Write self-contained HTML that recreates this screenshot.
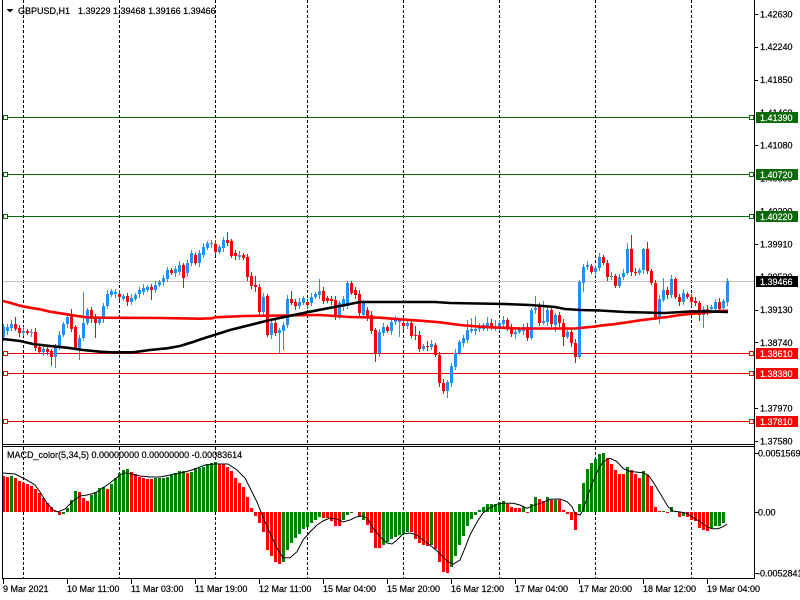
<!DOCTYPE html>
<html><head><meta charset="utf-8"><style>
html,body{margin:0;padding:0;background:#fff;overflow:hidden;width:800px;height:600px}
svg{display:block}
text{font-family:"Liberation Sans",sans-serif;font-size:9px;fill:#000;stroke:#000;stroke-width:0.2px}
text.w{fill:#fff;stroke:#fff;stroke-width:0.15px}
</style></head><body>
<svg id="s" width="800" height="600" viewBox="0 0 800 600" xmlns="http://www.w3.org/2000/svg">
<rect x="0" y="0" width="800" height="600" fill="#fff"/>
<g stroke="#000" stroke-width="1" stroke-dasharray="3,2" shape-rendering="crispEdges">
<line x1="23.5" y1="0" x2="23.5" y2="444"/><line x1="119.5" y1="0" x2="119.5" y2="444"/>
<line x1="215.5" y1="0" x2="215.5" y2="444"/><line x1="307.5" y1="0" x2="307.5" y2="444"/>
<line x1="403.5" y1="0" x2="403.5" y2="444"/><line x1="499.5" y1="0" x2="499.5" y2="444"/>
<line x1="595.5" y1="0" x2="595.5" y2="444"/><line x1="691.5" y1="0" x2="691.5" y2="444"/>
<line x1="23.5" y1="447" x2="23.5" y2="578"/><line x1="119.5" y1="447" x2="119.5" y2="578"/>
<line x1="215.5" y1="447" x2="215.5" y2="578"/><line x1="307.5" y1="447" x2="307.5" y2="578"/>
<line x1="403.5" y1="447" x2="403.5" y2="578"/><line x1="499.5" y1="447" x2="499.5" y2="578"/>
<line x1="595.5" y1="447" x2="595.5" y2="578"/><line x1="691.5" y1="447" x2="691.5" y2="578"/>
</g>
<g stroke-width="1" shape-rendering="crispEdges">
<line x1="2" y1="117.5" x2="754" y2="117.5" stroke="#0a6a0a"/>
<line x1="2" y1="174.5" x2="754" y2="174.5" stroke="#0a6a0a"/>
<line x1="2" y1="216.5" x2="754" y2="216.5" stroke="#0a6a0a"/>
<line x1="2" y1="353.5" x2="754" y2="353.5" stroke="#ee0000"/>
<line x1="2" y1="373.5" x2="754" y2="373.5" stroke="#ee0000"/>
<line x1="2" y1="421.5" x2="754" y2="421.5" stroke="#ee0000"/>
<line x1="2" y1="281.5" x2="754" y2="281.5" stroke="#c0c0c0"/>
</g>
<g id="cd" shape-rendering="crispEdges"></g>
<polyline fill="none" stroke="#ff0000" stroke-width="2.6" points="3,301 10,302.7 20,305.7 30,307.7 40,309.3 50,311.7 67,314.3 77,316 87,317.3 100,317.7 160,318 200,318.7 212,318.3 215,317.3 245,316 320,315 335,316 350,317 380,317.7 400,319.3 420,320.7 440,322.3 460,325 480,326.7 500,327.7 520,328.5 575,328.5 583,327.7 593,326.7 603,325.3 613,324.3 627,322.3 640,320.3 653,318.7 667,317 680,315 693,313.7 707,312.3 720,311 728,310.7"/>
<polyline fill="none" stroke="#000" stroke-width="2.6" points="3,339 20,341 33,344 50,346 67,347.7 83,350 100,351.7 110,352.3 133,352.3 150,350 167,348.3 180,346 193,342 200,339.5 230,330 270,320 310,311.7 350,304 360,302 435,302 450,303 505,304 530,305 555,307 565,309 580,310 600,310.5 625,312 665,313 690,311.5 705,311.3 728,312"/>
<g id="mb" shape-rendering="crispEdges"></g>
<polyline fill="none" stroke="#000" stroke-width="1" points="3,473 15,474 25,479 35,485 40,492 47,503 53,510 58,512 65,509 72,502 80,496 87,495 95,493 100,490 110,483 120,475 125,473 132,474 140,476 150,477 160,477 175,474 185,472 195,469 205,465 215,464 228,464 237,470 245,478 250,488 257,502 263,517 270,533 277,548 283,557.7 290,557.7 297,551.7 303,540 310,532 317,525 323,521 330,518 337,519 343,522 350,520 357,516.7 363,516 368,519 373,528 380,536.7 387,543 392,544 397,540 403,534 410,533 417,535 423,540 430,545 437,551 443,556.7 447,561 453,564.3 460,560 465,548 470,535 477,522 483,513 490,507.7 497,504.3 503,503.3 513,503.3 520,505 527,508.3 533,505.7 543,502.3 550,499.3 560,499 567,501.7 572,506.7 575,513.3 580,515 583,510 588,495 593,481.7 598,470 603,461.7 610,458.3 617,461.7 623,468.3 630,471.5 643,472.7 648,475 653,481.7 658,490 663,498.3 668,506.7 673,511 680,512 687,513.3 693,517.3 700,521.7 707,526.7 712,528.7 718,528.7 723,526.7 727,524"/>
<g stroke="#000" stroke-width="1" shape-rendering="crispEdges">
<line x1="2.5" y1="0" x2="2.5" y2="579"/>
<line x1="754.5" y1="0" x2="754.5" y2="579"/>
<line x1="2" y1="444.5" x2="755" y2="444.5"/>
<line x1="2" y1="446.5" x2="755" y2="446.5"/>
<line x1="2" y1="578.5" x2="755" y2="578.5"/>
<line x1="755" y1="14.5" x2="758" y2="14.5"/><line x1="755" y1="47.5" x2="758" y2="47.5"/>
<line x1="755" y1="80.5" x2="758" y2="80.5"/><line x1="755" y1="145.5" x2="758" y2="145.5"/>
<line x1="755" y1="244.5" x2="758" y2="244.5"/><line x1="755" y1="310.5" x2="758" y2="310.5"/>
<line x1="755" y1="342.5" x2="758" y2="342.5"/><line x1="755" y1="408.5" x2="758" y2="408.5"/>
<line x1="755" y1="441.5" x2="758" y2="441.5"/>
<line x1="755" y1="453.5" x2="758" y2="453.5"/><line x1="755" y1="512.5" x2="758" y2="512.5"/>
<line x1="755" y1="573.5" x2="758" y2="573.5"/>
<line x1="3.5" y1="579" x2="3.5" y2="584"/><line x1="67.5" y1="579" x2="67.5" y2="584"/>
<line x1="131.5" y1="579" x2="131.5" y2="584"/><line x1="195.5" y1="579" x2="195.5" y2="584"/>
<line x1="259.5" y1="579" x2="259.5" y2="584"/><line x1="323.5" y1="579" x2="323.5" y2="584"/>
<line x1="387.5" y1="579" x2="387.5" y2="584"/><line x1="451.5" y1="579" x2="451.5" y2="584"/>
<line x1="515.5" y1="579" x2="515.5" y2="584"/><line x1="579.5" y1="579" x2="579.5" y2="584"/>
<line x1="643.5" y1="579" x2="643.5" y2="584"/><line x1="707.5" y1="579" x2="707.5" y2="584"/>
</g>
<g>
<text x="760" y="17.3">1.42630</text>
<text x="760" y="50">1.42240</text>
<text x="760" y="83">1.41850</text>
<text x="760" y="116">1.41460</text>
<text x="760" y="148.7">1.41080</text>
<text x="760" y="181.5">1.40690</text>
<text x="760" y="214.4">1.40300</text>
<text x="760" y="247.3">1.39910</text>
<text x="760" y="280">1.39520</text>
<text x="760" y="313">1.39130</text>
<text x="760" y="345.8">1.38740</text>
<text x="760" y="378.6">1.38350</text>
<text x="760" y="411.5">1.37970</text>
<text x="760" y="444.3">1.37580</text>
</g>
<g shape-rendering="crispEdges">
<rect x="756" y="112" width="42" height="11" fill="#0a6a0a"/>
<rect x="756" y="169" width="42" height="11" fill="#0a6a0a"/>
<rect x="756" y="211" width="42" height="11" fill="#0a6a0a"/>
<rect x="756" y="276" width="42" height="11" fill="#000"/>
<rect x="756" y="348" width="42" height="11" fill="#ff0000"/>
<rect x="756" y="368" width="42" height="11" fill="#ff0000"/>
<rect x="756" y="416" width="42" height="11" fill="#ff0000"/>
</g>
<g>
<text class="w" x="760" y="120.8">1.41390</text>
<text class="w" x="760" y="177.8">1.40720</text>
<text class="w" x="760" y="219.8">1.40220</text>
<text class="w" x="760" y="284.8">1.39466</text>
<text class="w" x="760" y="356.8">1.38610</text>
<text class="w" x="760" y="376.8">1.38380</text>
<text class="w" x="760" y="424.8">1.37810</text>
</g>
<g fill="#fff" stroke-width="1" shape-rendering="crispEdges">
<rect x="3.5" y="115.5" width="4" height="4" stroke="#0a6a0a"/>
<rect x="3.5" y="172.5" width="4" height="4" stroke="#0a6a0a"/>
<rect x="3.5" y="214.5" width="4" height="4" stroke="#0a6a0a"/>
<rect x="749.5" y="115.5" width="4" height="4" stroke="#0a6a0a"/>
<rect x="749.5" y="172.5" width="4" height="4" stroke="#0a6a0a"/>
<rect x="749.5" y="214.5" width="4" height="4" stroke="#0a6a0a"/>
<rect x="3.5" y="351.5" width="4" height="4" stroke="#ee0000"/>
<rect x="3.5" y="371.5" width="4" height="4" stroke="#ee0000"/>
<rect x="3.5" y="419.5" width="4" height="4" stroke="#ee0000"/>
<rect x="749.5" y="351.5" width="4" height="4" stroke="#ee0000"/>
<rect x="749.5" y="371.5" width="4" height="4" stroke="#ee0000"/>
<rect x="749.5" y="419.5" width="4" height="4" stroke="#ee0000"/>
</g>
<text x="758" y="456.5">0.0051569</text>
<text x="758" y="515.5">0.00</text>
<text x="757" y="576.5">-0.0052841</text>
<text x="7" y="458">MACD_color(5,34,5) 0.00000000 0.00000000 -0.00083614</text>
<polygon points="6.5,9 13.5,9 10,12.5" fill="#000"/>
<text x="18" y="14">GBPUSD,H1</text>
<text x="78" y="14">1.39229 1.39468 1.39166 1.39466</text>
<g>
<text x="3" y="592">9 Mar 2021</text>
<text x="67" y="592">10 Mar 11:00</text>
<text x="131" y="592">11 Mar 03:00</text>
<text x="195" y="592">11 Mar 19:00</text>
<text x="259" y="592">12 Mar 11:00</text>
<text x="323" y="592">15 Mar 04:00</text>
<text x="387" y="592">15 Mar 20:00</text>
<text x="451" y="592">16 Mar 12:00</text>
<text x="515" y="592">17 Mar 04:00</text>
<text x="579" y="592">17 Mar 20:00</text>
<text x="643" y="592">18 Mar 12:00</text>
<text x="707" y="592">19 Mar 04:00</text>
</g>
</svg>
<script>
(function(){
var NS='http://www.w3.org/2000/svg';
function R(p,x,y,w,h,f){var r=document.createElementNS(NS,'rect');r.setAttribute('x',x);r.setAttribute('y',y);r.setAttribute('width',w);r.setAttribute('height',h);r.setAttribute('fill',f);p.appendChild(r);}
var C=[[1,327,337,324,341],[1,327,331],[1,324,328],[0,324,329,317,0],[0,328,333],[1,331,333],[0,331,333],[1,332,333],[0,332,348],[0,347,352],
[1,349,352],[0,349,352],[0,351,357,0,366],[1,347,357,0,368],[1,335,347],[1,324,335],[1,317,324],[0,314,329,309,0],[0,327,348],[1,338,348,0,360],
[1,323,338,292,0],[1,310,323],[0,310,319],[0,318,323,0,338],[1,319,323],[1,306,319],[1,294,306],[1,291,295],[1,292,294],[0,294,297],
[1,296,299],[0,296,302],[1,298,302],[1,295,299],[1,290,294],[1,288,292],[1,287,290],[0,287,290,0,300],[1,285,290],[1,282,285],
[1,278,282],[1,270,279,267,0],[0,270,273],[1,269,273],[1,265,272],[0,265,278,0,288],[1,263,273],[1,253,263,250,0],[0,255,263],[1,253,263],
[1,247,255],[1,243,248],[1,243,244],[0,244,252],[1,247,252],[1,240,248],[0,240,243,232,0],[0,241,256],[0,253,256],[1,255,257],
[0,255,258],[0,257,277],[0,276,286],[0,285,287,276,292],[0,287,312],[1,297,312],[0,296,335],[1,323,335],[0,323,333],[1,330,333,0,353],
[1,325,331,0,350],[1,299,325],[0,299,303,291,0],[0,302,306],[1,302,306],[1,298,303],[0,302,305],[1,297,303],[1,294,297],[1,291,295,279,0],
[0,291,301],[0,298,301],[0,299,301],[0,300,317],[1,303,317],[1,299,307],[1,283,306,281,0],[0,283,293],[0,290,295],[0,294,313],
[1,302,315],[0,310,317],[0,315,331],[0,330,353,0,362],[1,332,353],[1,327,333],[0,327,331],[1,322,331],[1,320,322],[1,320,322,0,337],
[0,323,326],[1,323,326],[0,323,336],[0,335,336,326,0],[0,335,349],[1,346,349],[0,346,347,341,0],[1,344,347],[0,345,355],[0,355,383],
[0,383,391],[1,382,391,0,398],[1,366,383],[1,353,367],[1,342,353],[1,338,343],[1,330,340,320,0],[1,329,331,318,0],[1,329,331,316,0],[1,327,329],
[1,325,329],[1,323,327,317,0],[0,323,327],[1,327,329,320,0],[1,323,327],[1,320,324],[0,320,329],[0,327,334,0,337],[1,332,334,0,339],[1,329,332],
[1,327,331],[0,327,338],[1,310,338],[1,308,310,296,0],[0,307,323],[1,321,323,301,0],[1,310,322],[0,310,324],[1,315,325,0,332],[0,315,323],
[0,323,337,0,346],[1,332,337],[0,332,343],[0,343,357,0,363],[1,282,357],[1,267,283,0,292],[1,265,267],[0,266,272],[1,268,272],[1,257,268],
[0,257,263],[0,263,277],[1,276,277],[0,276,286],[1,277,286,0,288],[1,273,277],[1,249,273,243,0],[0,249,272,235,0],[0,272,273],[1,270,273],
[1,249,270,248,0],[0,249,271,242,0],[0,271,283],[0,283,318,0,320],[1,299,318,0,324],[1,290,300,278,0],[0,290,295],[1,279,295],[0,279,297,277,0],[0,297,302],
[1,293,302],[0,294,297],[0,297,302],[0,301,303],[0,303,315,0,321],[1,309,315,0,328],[0,309,312],[1,307,309],[1,302,309],[0,302,309],
[1,301,308],[1,281,302]];
var g=document.getElementById('cd');
for(var i=0;i<C.length;i++){var c=C[i],x=2+4*i,t=c[1],b=c[2];
var hi=c[3]||(t-2-(i*7%3)),lo=c[4]||(b+2+(i*5%3));
var col=c[0]?'#1e90ff':'#ff0000';
R(g,x+1,hi,1,lo-hi,col);R(g,x,t,3,Math.max(1,b-t),col);}
var M="r476 r477 g476 r478 r481 r483 r484 r486 r489 r493 r498 r503 r507 r511 r515 g514 g508 g500 g491 r492 r498 r501 g495 g492 g488 g487 r489 g484 g478 g473 g470 g469 r472 r474 r477 r478 r479 r479 g478 g478 g478 g477 g475 g473 g471 g471 r473 g472 g468 g468 g467 g464 g463 g462 r464 r464 r467 r471 r478 r483 r487 r497 r508 r516 r523 r532 r550 r556 r562 r564 g562 g550 g543 g538 g534 g529 g527 g523 g520 g517 r518 r518 r521 r526 r526 g520 g515 g513 g512 r516 g520 r525 r533 r548 r548 g545 g542 g539 g537 g535 g533 g532 r532 r539 r543 r545 r546 g545 r549 r562 r572 r573 g567 g556 g545 g536 g526 g519 g515 g510 g507 g504 g504 g504 g502 g501 r504 r507 r508 r508 g507 r513 g504 g497 r499 r501 g497 r500 g500 r500 r510 r514 r520 r530 g504 g483 g469 g463 g459 g454 g453 r458 r464 r470 r474 r474 g467 r470 r474 r478 g471 r475 r486 r507 r511 g511 r513 g507 g512 r517 g516 r517 r520 r521 r528 r530 r531 g528 g526 g526 g523 g512".split(' ');
var mb=document.getElementById('mb');var Z=512;
for(var j=0;j<M.length;j++){var col2=M[j].charAt(0)=='g'?'#008000':'#ff0000';var v=parseFloat(M[j].substring(1));
if(Math.abs(v-Z)<0.5)continue;var xx=2+4*j;
if(v<Z)R(mb,xx,v,3,Z-v,col2);else R(mb,xx,Z,3,v-Z,col2);}
})();
</script>
</body></html>
